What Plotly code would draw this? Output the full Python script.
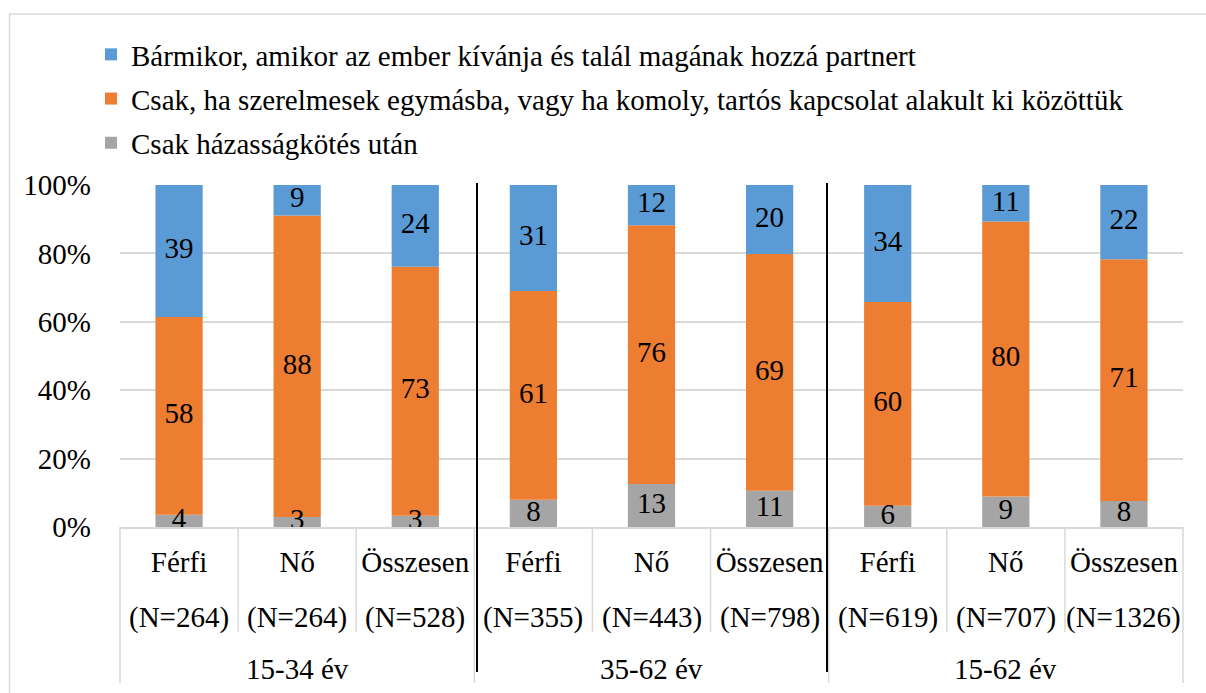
import plotly.graph_objects as go

# ---- data ----
groups = ["15-34 év", "35-62 év", "15-62 év"]
sexes = ["Férfi", "Nő", "Összesen", "Férfi", "Nő", "Összesen", "Férfi", "Nő", "Összesen"]
ns = ["(N=264)", "(N=264)", "(N=528)", "(N=355)", "(N=443)", "(N=798)", "(N=619)", "(N=707)", "(N=1326)"]
group_of = [0, 0, 0, 1, 1, 1, 2, 2, 2]

series_names = [
    "Csak házasságkötés után",
    "Csak, ha szerelmesek egymásba, vagy ha komoly, tartós kapcsolat alakult ki közöttük",
    "Bármikor, amikor az ember kívánja és talál magának hozzá partnert",
]
gray_vals = [3.6, 2.9, 3.3, 8.0, 12.6, 10.6, 6.2, 8.9, 7.6]
orange_vals = [57.8, 88.2, 72.8, 61.0, 75.6, 69.2, 59.6, 80.4, 70.7]
blue_vals = [38.6, 8.9, 23.9, 31.0, 11.8, 20.2, 34.2, 10.7, 21.7]
y_ticks = [0, 20, 40, 60, 80, 100]
y_tick_labels = ["0%", "20%", "40%", "60%", "80%", "100%"]

colors = ["#A5A5A5", "#ED7D31", "#5B9BD5"]
legend_ranks = [3, 2, 1]
FONT = "Liberation Serif, Times New Roman, Tinos, DejaVu Serif, serif"
FS = 29

cats = [f"{s} {n}" for s, n in zip(sexes, ns)]

fig = go.Figure()
bases = [0.0] * len(cats)
label_traces = []
for name, vals, col, rk in zip(series_names, [gray_vals, orange_vals, blue_vals], colors, legend_ranks):
    fig.add_trace(go.Bar(
        x=cats, y=vals, base=list(bases), name=name, legendgroup=name, legendrank=rk,
        marker=dict(color=col, line=dict(width=0)),
        hoverinfo="skip",
    ))
    mids = [b + v / 2 for b, v in zip(bases, vals)]
    label_traces.append(go.Scatter(
        x=cats, y=mids, mode="text", text=[f"{v:.0f}" for v in vals],
        textposition="middle center", textfont=dict(family=FONT, size=FS, color="black"),
        showlegend=False, cliponaxis=False, hoverinfo="skip",
    ))
    bases = [b + v for b, v in zip(bases, vals)]
for tr in label_traces:
    fig.add_trace(tr)

W, H = 1206, 693
L, R, T, B = 120, 23, 185, 166
ph = H - T - B
base_px = H - B


def py(pix):
    return (base_px - pix) / ph


def px(pix):
    return (pix - L) / (W - L - R)


shapes = []
# outer chart border
shapes.append(dict(type="rect", xref="paper", yref="paper",
                   x0=px(9.5), x1=px(1220), y0=py(705), y1=py(14),
                   line=dict(color="#d9d9d9", width=1.5), fillcolor="rgba(0,0,0,0)", layer="below"))
n = len(cats)
for k in range(n + 1):
    is_group = (k % 3 == 0)
    shapes.append(dict(type="line", xref="x domain", yref="paper",
                       x0=k / n, x1=k / n, y0=0, y1=py(683 if is_group else 632),
                       line=dict(color="#d9d9d9", width=1.5)))
# black separators between age groups
for xpix in [477, 827]:
    shapes.append(dict(type="line", xref="paper", yref="paper",
                       x0=px(xpix), x1=px(xpix), y0=py(183), y1=py(672),
                       line=dict(color="black", width=2)))

annotations = []
for c, nlab in zip(cats, ns):
    annotations.append(dict(x=c, xref="x", y=py(617), yref="paper", text=nlab, showarrow=False,
                            xanchor="center", yanchor="middle",
                            font=dict(family=FONT, size=FS, color="black")))
for gi, g in enumerate(groups):
    members = [cats[i] for i in range(n) if group_of[i] == gi]
    annotations.append(dict(x=members[len(members) // 2], xref="x", y=py(669), yref="paper", text=g,
                            showarrow=False, xanchor="center", yanchor="middle",
                            font=dict(family=FONT, size=FS, color="black")))

fig.update_layout(
    width=W, height=H,
    margin=dict(l=L, r=R, t=T, b=B, autoexpand=False),
    paper_bgcolor="white", plot_bgcolor="white",
    barmode="overlay", bargap=0.6,
    font=dict(family=FONT, size=FS, color="black"),
    showlegend=True,
    legend=dict(x=px(91), y=py(29), xanchor="left", yanchor="top",
                traceorder="grouped", tracegroupgap=3.5,
                font=dict(family=FONT, size=FS, color="black"),
                bgcolor="rgba(0,0,0,0)"),
    xaxis=dict(type="category", tickvals=cats, ticktext=sexes, ticks="",
               showline=True, linecolor="#d9d9d9", linewidth=1.5,
               showgrid=False, ticklabelstandoff=8,
               tickfont=dict(family=FONT, size=FS, color="black"),
               range=[-0.5, n - 0.5], fixedrange=True),
    yaxis=dict(range=[0, 100], tickvals=y_ticks, ticktext=y_tick_labels,
               showgrid=True, gridcolor="#d9d9d9", gridwidth=1.5,
               zeroline=False, showline=False, ticks="",
               ticklabelstandoff=28,
               tickfont=dict(family=FONT, size=FS, color="black"), fixedrange=True),
    shapes=shapes, annotations=annotations,
)

fig.write_html("out.html", config={"displayModeBar": False},
               post_script="document.body.style.margin='0';document.body.style.overflow='hidden';")
